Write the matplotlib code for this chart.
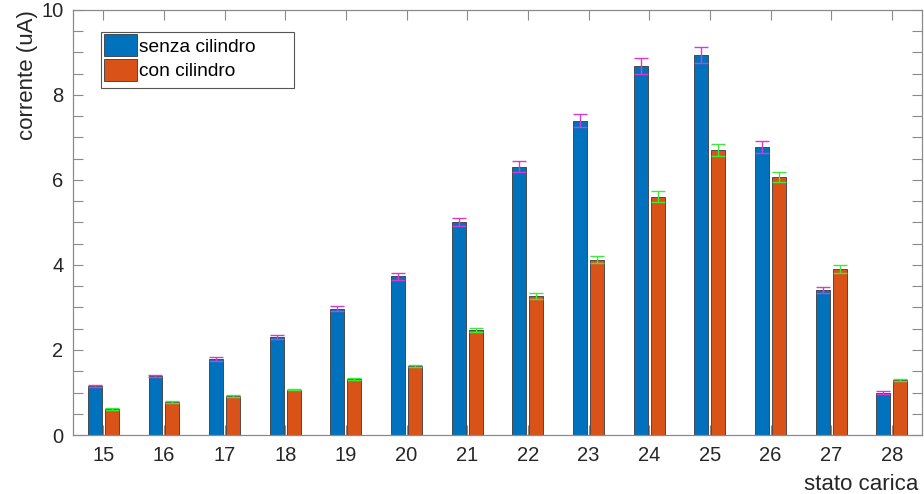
import numpy as np
import matplotlib.pyplot as plt
from matplotlib.ticker import MultipleLocator
from matplotlib.patches import Rectangle

plt.rcParams['font.family'] = ['Liberation Sans', 'DejaVu Sans']

stati = [15, 16, 17, 18, 19, 20, 21, 22, 23, 24, 25, 26, 27, 28]
senza_cilindro = [1.15, 1.39, 1.79, 2.31, 2.97, 3.73, 5.01, 6.31, 7.39, 8.68, 8.93, 6.78, 3.41, 1.00]
con_cilindro = [0.61, 0.77, 0.92, 1.07, 1.32, 1.62, 2.47, 3.27, 4.12, 5.61, 6.70, 6.06, 3.91, 1.29]
err_senza = [0.03, 0.03, 0.04, 0.05, 0.06, 0.08, 0.10, 0.13, 0.15, 0.18, 0.19, 0.14, 0.07, 0.03]
err_con = [0.02, 0.02, 0.02, 0.02, 0.03, 0.03, 0.05, 0.07, 0.08, 0.12, 0.14, 0.12, 0.09, 0.03]

blu = '#0072BD'
arancio = '#D95319'
axis_grey = '#8a8a8a'
testo = '#262626'

fig = plt.figure(figsize=(9.24, 4.94), dpi=100)
ax = fig.add_axes([0.079, 0.1194, 0.919, 0.8606])

x = np.array(stati, dtype=float)
w = 0.23
off = 0.14

ax.bar(x - off, senza_cilindro, width=w, color=blu, edgecolor='#3a3a3a',
       linewidth=0.6, label='senza cilindro', zorder=2)
ax.bar(x + off, con_cilindro, width=w, color=arancio, edgecolor='#3a3a3a',
       linewidth=0.6, label='con cilindro', zorder=2)
ax.errorbar(x - off, senza_cilindro, yerr=err_senza, fmt='none',
            ecolor='#d63ad0', elinewidth=1.0, capsize=5, capthick=1.0, zorder=3)
ax.errorbar(x + off, con_cilindro, yerr=err_con, fmt='none',
            ecolor='#3ee83e', elinewidth=1.0, capsize=5, capthick=1.0, zorder=3)

ax.set_xlim(14.5, 28.5)
ax.set_ylim(0, 10)
ax.set_xticks(stati)
ax.set_xticklabels([str(s) for s in stati])
ax.yaxis.set_major_locator(MultipleLocator(2))
ax.yaxis.set_minor_locator(MultipleLocator(0.5))

ax.set_axisbelow(True)
for s in ax.spines.values():
    s.set_color(axis_grey)
    s.set_linewidth(0.9)
ax.tick_params(which='both', direction='in', color=axis_grey, top=True,
               right=True, labelsize=14.5, labelcolor=testo, width=0.8)
ax.tick_params(which='major', length=7)
ax.tick_params(which='minor', length=7)
ax.tick_params(axis='x', pad=8)
ax.tick_params(axis='y', pad=7)

ax.text(-0.054, 0.846, 'corrente (uA)', transform=ax.transAxes, rotation=90,
        ha='center', va='center', fontsize=16, color=testo)
ax.text(0.928, -0.129, 'stato carica', transform=ax.transAxes, ha='center',
        va='baseline', fontsize=16, color=testo)

# legend box drawn separately to keep the wide frame
ax.add_patch(Rectangle((0.033, 0.816), 0.227, 0.132, transform=ax.transAxes,
                       facecolor='white', edgecolor='#555555', linewidth=0.8,
                       zorder=4))
leg = ax.legend(loc='upper left', bbox_to_anchor=(0.0365, 0.943), fontsize=13.8,
                frameon=False, handlelength=1.7, handleheight=1.4,
                handletextpad=0.15, borderpad=0, labelspacing=0.12,
                borderaxespad=0)
leg.set_zorder(5)
for h in leg.legend_handles:
    h.set_edgecolor('#3a3a3a')

fig.savefig('out.png', dpi=100)
